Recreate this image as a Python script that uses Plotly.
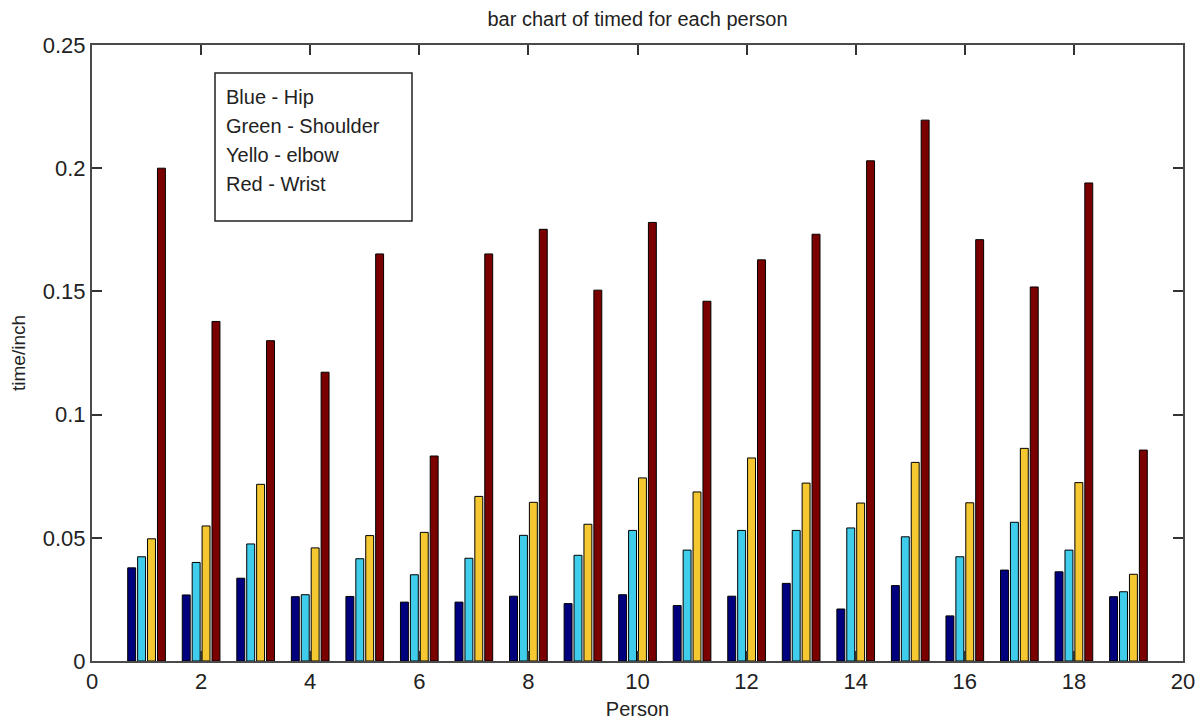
import plotly.graph_objects as go

persons = list(range(1, 20))
hip = [0.0378, 0.0268, 0.0336, 0.0261, 0.0262, 0.0239, 0.0239, 0.0263, 0.0233, 0.0269,
       0.0225, 0.0263, 0.0315, 0.0211, 0.0306, 0.0183, 0.0369, 0.0362, 0.0261]
shoulder = [0.0423, 0.0400, 0.0475, 0.0269, 0.0415, 0.0350, 0.0417, 0.0510, 0.0429, 0.0530,
            0.0450, 0.0530, 0.0530, 0.0540, 0.0504, 0.0423, 0.0563, 0.0450, 0.0281]
elbow = [0.0496, 0.0548, 0.0717, 0.0459, 0.0509, 0.0522, 0.0668, 0.0644, 0.0555, 0.0743,
         0.0686, 0.0824, 0.0722, 0.0641, 0.0806, 0.0642, 0.0863, 0.0724, 0.0352]
wrist = [0.2000, 0.1378, 0.1300, 0.1172, 0.1652, 0.0832, 0.1652, 0.1752, 0.1505, 0.1780,
         0.1460, 0.1628, 0.1732, 0.2030, 0.2195, 0.1710, 0.1518, 0.1940, 0.0856]

series_names = ["Hip", "Shoulder", "Elbow", "Wrist"]
series_colors = ["#00007f", "#3fcdeb", "#f5c832", "#7a0000"]

x_ticks = [0, 2, 4, 6, 8, 10, 12, 14, 16, 18, 20]
y_ticks = [0, 0.05, 0.1, 0.15, 0.2, 0.25]
y_tick_labels = ["0", "0.05", "0.1", "0.15", "0.2", "0.25"]

legend_lines = ["Blue - Hip", "Green - Shoulder", "Yello - elbow", "Red - Wrist"]

FONT = "Liberation Sans, Arial, sans-serif"

W, H = 1198, 727
PL, PR, PT, PB = 92, 1183, 45, 661  # plot area in page pixels
PW, PH = PR - PL, PB - PT

fig = go.Figure()
for name, vals, col in zip(series_names, [hip, shoulder, elbow, wrist], series_colors):
    fig.add_trace(go.Bar(x=persons, y=vals, name=name, marker_color=col,
                         marker_line_color="#000000", marker_line_width=1))

fig.update_layout(
    width=W, height=H, autosize=False,
    barmode="group", bargap=0.273, bargroupgap=0.2,
    showlegend=False,
    plot_bgcolor="white", paper_bgcolor="white",
    margin=dict(l=PL, r=W - PR, t=PT, b=H - PB, autoexpand=False),
    font=dict(family=FONT, size=20, color="#222222"),
    title=dict(text="bar chart of timed for each person", x=0.5, xanchor="center",
               xref="paper", y=1 - 19 / H, yanchor="middle",
               font=dict(family=FONT, size=20, color="#222222")),
)

axis_common = dict(showline=True, linecolor="#4a4a4a", linewidth=2, mirror="ticks",
                   ticks="inside", ticklen=10, tickwidth=1.5, tickcolor="#333333",
                   showgrid=False, zeroline=False, automargin=False,
                   tickfont=dict(family=FONT, size=22, color="#222222"))

fig.update_xaxes(range=[0, 20], tickvals=x_ticks, ticklabeloverflow="allow",
                 title=dict(text="Person", standoff=9,
                            font=dict(family=FONT, size=20, color="#222222")), **axis_common)
fig.update_yaxes(range=[0, 0.25], tickvals=y_ticks, ticktext=y_tick_labels,
                 title=dict(text="time/inch", standoff=12,
                            font=dict(family=FONT, size=19, color="#222222")), **axis_common)

# legend box (text box as in the original)
fig.add_shape(type="rect", xref="paper", yref="paper",
              x0=(215 - PL) / PW, x1=(412 - PL) / PW,
              y0=(PB - 221) / PH, y1=(PB - 73) / PH,
              line=dict(color="#222222", width=1.5), fillcolor="white")
for i, line in enumerate(legend_lines):
    ypix = 97 + i * 29
    fig.add_annotation(text=line, xref="paper", yref="paper",
                       x=(224 - PL) / PW, y=(PB - ypix) / PH,
                       xanchor="left", yanchor="middle", showarrow=False,
                       font=dict(family=FONT, size=20, color="#222222"))

fig.write_html(
    "out.html",
    config={"responsive": False, "displayModeBar": False},
    post_script=(
        "document.documentElement.style.margin='0';"
        "document.body.style.margin='0';document.body.style.overflow='hidden';"
    ),
)
